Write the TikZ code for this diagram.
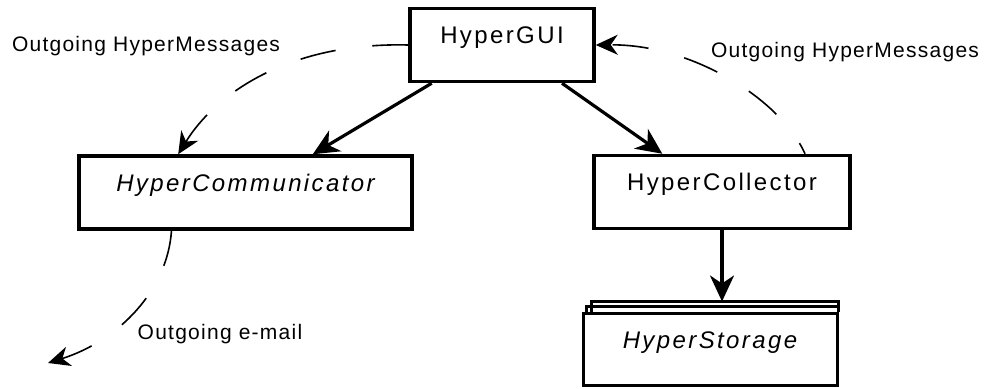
\documentclass[tikz,border=0pt]{standalone}
\usepackage{fontspec}
\setmainfont{Liberation Sans}
\newfontfamily\boxfont{Liberation Sans}[LetterSpace=10]
\newfontfamily\notefont{Liberation Sans}[LetterSpace=6]
\usetikzlibrary{arrows.meta,calc}
\tikzset{
  classbox/.style={draw=black,line width=3.5pt,fill=white,inner sep=0pt,
    text height=35pt,text depth=38pt,font=\boxfont\fontsize{24}{28}\selectfont},
  uses/.style={-{Stealth[length=26pt,width=24pt,inset=8pt]},line width=3.2pt},
  flow/.style={-{Stealth[length=22pt,width=20pt,inset=7pt]},line width=1.6pt,
    dash pattern=on 36pt off 37pt},
  note/.style={anchor=base,inner sep=0pt,font=\notefont\fontsize{21}{25}\selectfont},
  stack/.style={line width=3pt}
}
\begin{document}
\begin{tikzpicture}[x=1pt,y=-1pt]
  \useasboundingbox (0,0) rectangle (990,388);
  \node[classbox, minimum width=184pt] (gui) at (502,45) {HyperGUI};
  \node[classbox, minimum width=333pt] (comm) at (245.5,192.5) {\itshape HyperCommunicator};
  \node[classbox, minimum width=256pt] (coll) at (722,192) {HyperCollector};
  \node[classbox, minimum width=254pt, line width=3pt, text depth=37pt] (stor) at (710,349) {\itshape HyperStorage};
  \draw[stack] ([xshift=5pt]stor.north west) -- ++(0,-5) -| (stor.north east);
  \draw[stack] ([xshift=10pt]stor.north west) -- ++(0,-10) -| (stor.north east);
  \coordinate (storTop) at ($(stor.north)+(0,-10)$);

  \node[note] (msgl) at (146,51.5) {Outgoing HyperMessages};
  \node[note] (msgr) at (845,57) {Outgoing HyperMessages};
  \node[note] (mail) at (220,339) {Outgoing e-mail};
  \coordinate (mailout) at (48,363);

  \draw[uses] ($(gui.south west)!0.125!(gui.south east)$) -- ($(comm.north west)!0.7!(comm.north east)$);
  \draw[uses] ($(gui.south west)!0.82!(gui.south east)$) -- ($(coll.north west)!0.27!(coll.north east)$);
  \draw[uses] (coll.south) -- (coll.south |- storTop);

  \draw[flow] (gui.west) .. controls +(-120,-3) and +(37,-60) .. ($(comm.north west)!0.3!(comm.north east)$);
  \draw[flow, dash phase=24pt] ($(coll.north west)!0.82!(coll.north east)$) .. controls +(-25,-55) and +(96,-1) .. (gui.east);
  \draw[flow] ($(comm.south west)!0.28!(comm.south east)$) .. controls +(-4,60) and +(70,-22) .. (mailout);
\end{tikzpicture}
\end{document}
